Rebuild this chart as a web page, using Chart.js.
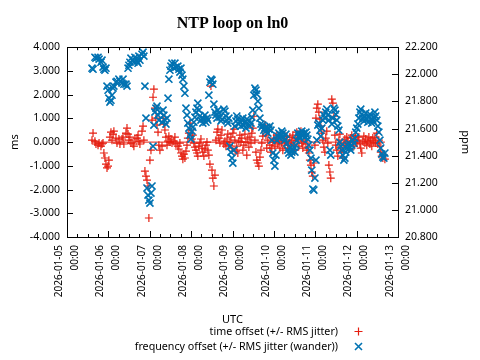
<!DOCTYPE html>
<html><head><meta charset="utf-8">
<script src="https://cdn.jsdelivr.net/npm/chart.js@4/dist/chart.umd.min.js"></script>
<style>html,body{margin:0;padding:0;background:#fff}canvas{display:block}</style>
</head><body>
<canvas id="c" width="480" height="360" style="width:480px;height:360px"></canvas>
<script>
// x tick labels (one per day, 00:00 UTC)
const dayLabels = ['2026-01-05','2026-01-06','2026-01-07','2026-01-08','2026-01-09','2026-01-10','2026-01-11','2026-01-12','2026-01-13'];
const timeLabel = '00:00';
// sample times: hours since 2026-01-05 00:00 UTC
const hours = [
14.5,15.1,16.2,16.8,18.0,18.6,19.7,20.3,20.9,21.4,
22.0,22.6,23.2,23.8,24.3,24.9,25.5,26.1,26.7,27.2,
28.4,29.0,30.1,30.7,31.9,32.5,33.0,34.2,34.8,35.4,
35.9,36.5,37.1,38.3,38.8,39.4,40.6,41.2,41.7,42.3,
43.5,44.1,44.6,45.2,45.8,46.4,47.0,47.5,48.1,48.7,
49.3,49.9,50.4,51.0,51.6,52.2,52.8,53.3,53.9,55.1,
55.7,56.2,56.8,57.4,58.0,58.6,59.1,59.7,60.3,60.9,
62.0,62.6,63.2,64.3,64.9,65.5,66.1,66.7,67.2,67.8,
68.4,69.0,69.6,70.1,70.7,71.3,71.9,72.5,73.0,73.6,
74.2,74.8,75.4,75.9,76.5,77.1,77.7,78.3,78.8,79.4,
80.0,80.6,81.2,81.7,82.3,82.9,83.5,84.1,84.6,85.2,
85.8,86.4,87.0,87.5,88.1,88.7,89.3,89.9,91.0,91.6,
92.2,92.8,93.3,93.9,94.5,95.1,95.7,96.2,96.8,97.4,
98.0,98.5,99.1,99.7,100.3,100.9,101.4,102.0,102.6,103.2,
103.8,104.3,104.9,105.5,106.1,106.7,107.2,107.8,108.4,109.0,
109.6,110.1,110.7,111.3,111.9,112.5,113.0,113.6,114.2,114.8,
115.4,115.9,116.5,117.1,117.7,118.3,118.8,119.4,120.0,120.6,
121.2,121.7,122.3,122.9,123.5,124.1,124.6,125.2,125.8,126.4,
127.0,127.5,128.1,128.7,129.3,129.9,130.4,131.0,131.6,132.2,
132.8,133.3,133.9,134.5,135.1,135.7,136.2,136.8,137.4,138.0,
138.6,139.1,139.7,140.3,140.9,141.5,142.0,142.6,143.2,143.8,
144.4,144.9,145.5,146.1,146.7,147.2,147.8,148.4,149.0,149.6,
150.1,150.7,151.3,151.9,152.5,153.0,153.6,154.2,154.8,155.4,
155.9,156.5,157.1,157.7,158.3,158.8,159.4,160.0,160.6,161.2,
161.7,162.3,162.9,163.5,164.1,164.6,165.2,165.8,166.4,167.0,
167.5,168.1,168.7,169.3,169.9,170.4,171.0,171.6,172.2,172.8,
173.3,173.9,174.5,175.1,175.7,176.2,176.8,177.4,178.0,178.6,
179.1,179.7,180.3,180.9,181.5,182.0,182.6,183.2,183.8,184.4
];
// time offset, ms
const offsetMs = [
0.08,0.38,0.04,-0.08,-0.13,-0.04,-0.17,-0.08,-0.04,-0.46,
-0.67,-0.93,-1.09,-1.01,-0.76,0.21,0.42,0.08,0.34,0.46,
0.17,-0.04,0.13,-0.08,0.13,0.21,-0.08,0.38,0.59,0.34,
0.08,0.21,-0.04,-0.08,-0.17,0.13,0.17,0.29,0.04,-0.08,
0.46,0.67,0.08,-1.22,-1.43,-1.60,-1.85,-3.20,-0.76,-0.34,
0.93,1.89,2.23,1.43,1.01,0.72,0.42,-0.13,-0.34,-0.17,
1.01,0.76,0.51,0.21,-0.13,0.04,0.25,0.00,0.13,-0.04,
0.04,0.21,-0.08,-0.17,-0.29,-0.04,-0.46,-0.59,-0.72,-0.51,
-0.67,-0.38,-0.13,0.17,0.38,0.80,0.51,0.13,0.29,-0.04,
-0.21,-0.34,-0.46,-0.59,-0.17,-0.04,0.13,-0.25,-0.42,-0.59,
-0.29,-0.13,0.00,-0.34,-0.55,-0.93,2.36,-1.18,-1.52,-1.85,
-1.39,0.08,0.42,0.55,0.17,-0.04,0.29,0.51,-0.08,0.04,
-0.17,0.13,0.34,-0.13,0.00,0.21,-0.25,0.38,0.55,0.08,
-0.38,-0.17,-0.46,0.04,0.29,0.00,0.17,-0.34,-0.13,0.34,
0.00,-0.55,0.13,-0.21,0.21,-0.04,0.38,0.59,1.09,0.08,
-0.42,-0.76,-0.88,-1.01,-0.63,-0.34,-0.04,0.25,0.59,0.72,
0.29,-0.25,0.08,0.46,-0.13,-0.42,-0.25,0.00,0.17,-0.17,
0.08,0.29,-0.08,0.04,-0.25,0.21,-0.04,-0.34,0.13,-0.13,
0.25,0.04,-0.25,-0.04,0.21,-0.13,0.08,0.29,-0.08,-0.34,
0.17,0.42,0.08,-0.17,0.29,0.46,-0.04,-0.25,0.04,0.25,
-0.08,-0.34,-0.21,-0.46,-0.76,-0.97,-1.26,-1.43,-0.88,-0.13,
1.01,1.43,1.60,1.26,0.97,0.67,0.38,0.08,-0.21,-0.42,
0.17,0.46,-0.04,-0.97,-1.26,-1.52,1.81,1.64,1.09,0.29,
-0.13,-0.34,-0.59,0.08,0.34,-0.21,-0.42,-0.67,-0.04,0.13,
-0.13,0.21,0.04,-0.29,-0.08,0.17,0.29,0.00,-0.17,0.13,
0.25,-0.04,0.08,0.21,-0.08,-0.25,-0.46,0.04,0.25,-0.04,
0.13,-0.13,0.04,0.21,-0.08,0.08,-0.17,0.17,0.00,0.21,
-0.04,0.38,-0.08,0.08,-0.17,-0.42,-0.59,-0.67,-0.55,-0.72
];
// frequency offset, ppm
const freqPpm = [
22.045,22.038,22.126,22.119,22.126,22.112,22.089,22.104,22.053,22.038,
22.030,22.045,21.913,21.883,21.824,21.795,21.809,21.846,21.898,21.913,
21.942,21.949,21.964,21.949,21.935,21.964,21.927,21.927,21.913,22.045,
22.067,22.089,22.119,22.104,22.089,22.126,22.097,22.082,22.134,22.104,
22.148,22.163,22.134,21.913,21.677,21.161,21.109,21.072,21.050,21.124,
21.176,21.470,21.625,21.721,21.750,21.765,21.699,21.662,21.721,21.647,
21.736,21.699,21.662,21.633,21.677,21.824,21.964,22.030,22.060,22.082,
22.045,22.082,22.053,22.060,22.038,22.016,22.045,21.994,21.964,21.913,
21.861,21.750,21.699,21.640,21.603,21.551,21.522,21.581,21.610,21.647,
21.684,21.721,21.750,21.787,21.736,21.692,21.662,21.677,21.640,21.669,
21.699,21.647,21.677,21.662,21.846,21.942,21.964,21.957,21.927,21.780,
21.721,21.699,21.677,21.736,21.714,21.684,21.655,21.669,21.743,21.728,
21.692,21.662,21.640,21.677,21.470,21.426,21.382,21.345,21.441,21.618,
21.655,21.692,21.669,21.633,21.647,21.618,21.662,21.677,21.625,21.647,
21.603,21.669,21.633,21.655,21.618,21.640,21.684,21.736,21.846,21.898,
21.883,21.854,21.802,21.750,21.677,21.633,21.610,21.625,21.588,21.603,
21.581,21.610,21.566,21.596,21.618,21.588,21.514,21.419,21.367,21.323,
21.404,21.514,21.544,21.566,21.529,21.551,21.581,21.566,21.537,21.514,
21.559,21.492,21.441,21.419,21.456,21.404,21.426,21.441,21.463,21.426,
21.478,21.514,21.566,21.544,21.529,21.559,21.581,21.544,21.566,21.537,
21.573,21.551,21.522,21.478,21.441,21.382,21.293,21.154,21.146,21.235,
21.367,21.514,21.625,21.640,21.588,21.544,21.603,21.662,21.699,21.677,
21.721,21.743,21.699,21.662,21.441,21.404,21.633,21.677,21.750,21.736,
21.706,21.662,21.618,21.588,21.500,21.470,21.441,21.404,21.367,21.382,
21.426,21.456,21.478,21.492,21.463,21.441,21.478,21.514,21.492,21.529,
21.573,21.603,21.633,21.677,21.721,21.743,21.706,21.677,21.655,21.684,
21.714,21.669,21.647,21.684,21.706,21.669,21.640,21.662,21.684,21.721,
21.692,21.662,21.618,21.573,21.514,21.456,21.412,21.389,21.382,21.419
];
const seriesLabels = ['time offset (+/- RMS jitter)', 'frequency offset (+/- RMS jitter (wander))'];
const RED = '#e51e10', BLUE = '#0072b2';
const SANS = '"Noto Sans", "Open Sans", sans-serif';

const framePlugin = {
  id: 'frame',
  afterDatasetsDraw(chart) {
    const {ctx, chartArea: a, scales} = chart;
    const x = scales.x, y = scales.y, y2 = scales.y2;
    ctx.save();
    ctx.strokeStyle = '#000'; ctx.lineWidth = 1;
    ctx.beginPath();
    for (let v = x.min; v <= x.max + 1e-9; v += 6) {
      const px = Math.round(x.getPixelForValue(v)) + 0.5;
      const len = (Math.round(v) % 24 === 0) ? 6 : 3;
      ctx.moveTo(px, a.bottom); ctx.lineTo(px, a.bottom - len);
      ctx.moveTo(px, a.top); ctx.lineTo(px, a.top + len);
    }
    y.ticks.forEach(t => { const py = Math.round(y.getPixelForValue(t.value)) + 0.5; ctx.moveTo(a.left, py); ctx.lineTo(a.left + 6, py); });
    y2.ticks.forEach(t => { const py = Math.round(y2.getPixelForValue(t.value)) + 0.5; ctx.moveTo(a.right, py); ctx.lineTo(a.right - 6, py); });
    ctx.stroke();
    ctx.strokeRect(Math.round(a.left) + 0.5, Math.round(a.top) + 0.5, Math.round(a.right - a.left), Math.round(a.bottom - a.top));
    ctx.restore();
  }
};

const legendPlugin = {
  id: 'rightLegend',
  afterDraw(chart) {
    const ctx = chart.ctx;
    const items = chart.data.datasets.filter(d => d.inLegend);
    ctx.save();
    ctx.font = '10.7px ' + SANS;
    ctx.textAlign = 'right'; ctx.textBaseline = 'middle'; ctx.fillStyle = '#000';
    items.forEach((d, i) => {
      const ty = 332 + i * 15;
      ctx.fillText(d.label, 338, ty);
      const mx = 358.5, my = ty - 0.5;
      ctx.strokeStyle = d.borderColor; ctx.lineWidth = d.pointBorderWidth;
      ctx.beginPath();
      if (d.pointStyle === 'cross') {
        ctx.moveTo(mx - 4, my); ctx.lineTo(mx + 4, my);
        ctx.moveTo(mx, my - 4); ctx.lineTo(mx, my + 4);
      } else {
        ctx.moveTo(mx - 3.5, my - 3.5); ctx.lineTo(mx + 3.5, my + 3.5);
        ctx.moveTo(mx - 3.5, my + 3.5); ctx.lineTo(mx + 3.5, my - 3.5);
      }
      ctx.stroke();
    });
    ctx.restore();
  }
};

const tickFont = {family: SANS, size: 10.5};
new Chart(document.getElementById('c'), {
  type: 'scatter',
  data: {
    datasets: [
      { label: seriesLabels[0], inLegend: true, yAxisID: 'y', order: 2,
        data: hours.map((h, i) => ({x: h, y: offsetMs[i]})),
        pointStyle: 'cross', pointRadius: 4, pointBorderWidth: 1.2,
        borderColor: RED, backgroundColor: RED },
      { label: seriesLabels[1], inLegend: true, yAxisID: 'y2', order: 1,
        data: hours.map((h, i) => ({x: h, y: freqPpm[i]})),
        pointStyle: 'crossRot', pointRadius: 5, pointBorderWidth: 1.6,
        borderColor: BLUE, backgroundColor: BLUE },
      { label: 'zero', inLegend: false, yAxisID: 'y', order: 3, showLine: true,
        data: [{x: hours[0], y: 0}, {x: hours[hours.length - 1], y: 0}],
        pointRadius: 0, borderColor: RED, borderWidth: 1 }
    ]
  },
  options: {
    responsive: false, animation: false, events: [],
    layout: {padding: {top: 0, left: 0, right: 0, bottom: 33}},
    plugins: {
      legend: {display: false}, tooltip: {enabled: false},
      title: {display: true, fullSize: false, text: 'NTP loop on ln0', color: '#000',
        font: {family: '"Liberation Serif", "DejaVu Serif", serif', size: 16, weight: 'bold'},
        padding: {top: 14, bottom: 14}}
    },
    scales: {
      x: { type: 'linear', position: 'bottom', min: 0, max: 192,
        ticks: { stepSize: 24, autoSkip: false, minRotation: 90, maxRotation: 90, padding: 8, labelOffset: -8,
          color: '#000', font: {family: SANS, size: 10, lineHeight: 1.6},
          callback: (v, i) => [dayLabels[i], timeLabel] },
        grid: {display: false, drawTicks: false}, border: {display: false},
        title: {display: true, text: 'UTC', color: '#000', font: {family: SANS, size: 11}, padding: {top: 0, bottom: 1}},
        afterFit(s) { s.height = 90; } },
      y: { type: 'linear', position: 'left', min: -4, max: 4,
        ticks: { stepSize: 1, padding: 7, color: '#000', font: tickFont, callback: v => Number(v).toFixed(3) },
        grid: {display: false, drawTicks: false}, border: {display: false},
        title: {display: true, text: 'ms', color: '#000', font: {family: SANS, size: 11}, padding: {top: 8, bottom: 0}},
        afterFit(s) { s.width = 67; } },
      y2: { type: 'linear', position: 'right', min: 20.8, max: 22.2,
        ticks: { stepSize: 0.2, padding: 7, color: '#000', font: tickFont, callback: v => Number(v).toFixed(3) },
        grid: {display: false, drawTicks: false}, border: {display: false},
        title: {display: true, text: 'ppm', color: '#000', font: {family: SANS, size: 11}, padding: {top: 8, bottom: 0}},
        afterFit(s) { s.width = 82; } }
    }
  },
  plugins: [framePlugin, legendPlugin]
});
</script>
</body></html>
